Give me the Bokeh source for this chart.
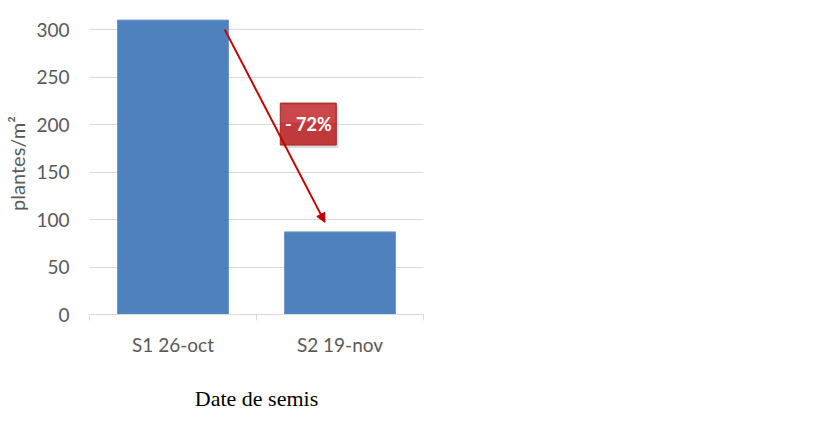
from bokeh.plotting import figure
from bokeh.models import FixedTicker, Range1d, Arrow, NormalHead, Label
from bokeh.embed import file_html
from bokeh.resources import INLINE

categories = ["S1 26-oct", "S2 19-nov"]
values = [310, 87]
y_ticks = [0, 50, 100, 150, 200, 250, 300]

x_pos = [i + 0.5 for i in range(len(categories))]
pct = round((1 - values[1] / values[0]) * 100)

p = figure(width=804, height=413, output_backend="svg", toolbar_location=None,
           x_range=Range1d(0, len(categories)), y_range=Range1d(0, 318),
           min_border_left=89, min_border_right=381, min_border_top=12, min_border_bottom=98)
p.outline_line_color = None
p.background_fill_color = "white"

p.vbar(x=x_pos, top=values, width=0.665, fill_color="#4f81bd", line_color="#6b98cf", line_width=1)

# axes
p.yaxis.ticker = FixedTicker(ticks=y_ticks)
p.yaxis.axis_line_color = None
p.yaxis.major_tick_line_color = None
p.yaxis.major_tick_out = 0
p.yaxis.major_tick_in = 0
p.yaxis.minor_tick_line_color = None
p.yaxis.major_label_text_font = "Lato"
p.yaxis.major_label_text_font_size = "19px"
p.yaxis.major_label_text_color = "#595959"
p.yaxis.major_label_standoff = 20
p.yaxis.axis_label = "plantes/m²"
p.yaxis.axis_label_text_font = "Lato"
p.yaxis.axis_label_text_font_style = "normal"
p.yaxis.axis_label_text_font_size = "20px"
p.yaxis.axis_label_text_color = "#595959"
p.yaxis.axis_label_standoff = 4

p.xaxis.ticker = FixedTicker(ticks=x_pos, minor_ticks=list(range(len(categories) + 1)))
p.xaxis.major_label_overrides = {x: c for x, c in zip(x_pos, categories)}
p.xaxis.major_tick_line_color = None
p.xaxis.major_tick_out = 0
p.xaxis.major_tick_in = 0
p.xaxis.minor_tick_line_color = "#d9d9d9"
p.xaxis.minor_tick_in = 0
p.xaxis.minor_tick_out = 6
p.xaxis.axis_line_color = "#d9d9d9"
p.xaxis.major_label_text_font = "Lato"
p.xaxis.major_label_text_font_size = "19px"
p.xaxis.major_label_text_color = "#595959"
p.xaxis.major_label_standoff = 12
p.xaxis.axis_label = "Date de semis"
p.xaxis.axis_label_text_font = "Liberation Serif"
p.xaxis.axis_label_text_font_style = "normal"
p.xaxis.axis_label_text_font_size = "22px"
p.xaxis.axis_label_text_color = "#000000"
p.xaxis.axis_label_standoff = 27

p.xgrid.visible = False
p.ygrid.grid_line_color = "#d9d9d9"

# arrow from bar 1 top to bar 2 top
x0, y0 = x_pos[0] + 0.31, values[0] - 10
x1, y1 = x_pos[1] - 0.09, values[1] + 10
p.add_layout(Arrow(end=NormalHead(size=9, fill_color="#c00000", line_color="#c00000"),
                   x_start=x0, y_start=y0, x_end=x1, y_end=y1,
                   line_color="#c00000", line_width=2))

# label box
bx, by = x_pos[1] - 0.19, (values[0] + values[1]) / 2 + 2
p.rect(x=[bx + 0.012], y=[by - 3], width=56, height=42, width_units="screen", height_units="screen",
       fill_color="#999999", fill_alpha=0.35, line_color=None)
p.rect(x=[bx], y=[by], width=56, height=42, width_units="screen", height_units="screen",
       fill_color="#c0393b", line_color="#a52a2a", line_width=1)
p.rect(x=[bx], y=[by + 11], width=54, height=18, width_units="screen", height_units="screen",
       fill_color="#d65a5a", fill_alpha=0.45, line_color=None)
p.add_layout(Label(x=bx, y=by, text=f"- {pct}%", text_align="center", text_baseline="middle",
                   text_color="white", text_font="Lato", text_font_style="bold",
                   text_font_size="18px"))

open("out.html", "w").write(file_html(p, INLINE))
